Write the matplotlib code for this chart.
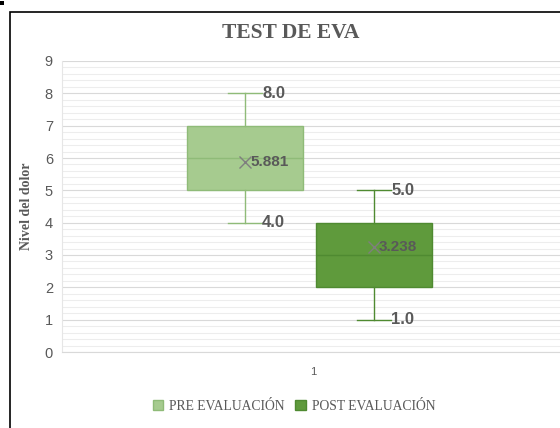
import matplotlib
matplotlib.use("Agg")
import matplotlib.pyplot as plt
from matplotlib.patches import Rectangle, Patch
from matplotlib.ticker import MultipleLocator

series = ["PRE EVALUACIÓN", "POST EVALUACIÓN"]
mins = [4.0, 1.0]
q1s = [5.0, 2.0]
medians = [6.0, 3.0]
q3s = [7.0, 4.0]
maxs = [8.0, 5.0]
means = [5.881, 3.238]
categories = ["1"]

fills = ["#a6cb8f", "#5f9a3c"]
edges = ["#8fbb78", "#4f8a31"]
txt = "#595959"

fig = plt.figure(figsize=(5.6, 4.28), dpi=100)
ax = fig.add_axes([62 / 560, 1 - 352 / 428, 502 / 560, 291 / 428])

positions = [0.8645, 1.1215]
for i in range(2):
    st = [dict(med=medians[i], q1=q1s[i], q3=q3s[i], whislo=mins[i], whishi=maxs[i],
               mean=means[i], fliers=[])]
    ax.bxp(st, positions=[positions[i]], widths=0.231, capwidths=0.068,
           patch_artist=True, showmeans=True, manage_ticks=False,
           boxprops=dict(facecolor=fills[i], edgecolor=edges[i], linewidth=1),
           whiskerprops=dict(color=edges[i], linewidth=1),
           capprops=dict(color=edges[i], linewidth=1),
           medianprops=dict(color=edges[i], linewidth=1),
           meanprops=dict(marker="x", markeredgecolor="#7f7f7f", markersize=8,
                          markeredgewidth=1))
    cap_end = positions[i] + 0.034
    for v in (mins[i], maxs[i]):
        ax.text(cap_end, v, f"{v:.1f}", ha="left", va="center", fontsize=12,
                fontweight="bold", color=txt, family="Liberation Sans")
    ax.text(positions[i] + 0.01, means[i], f"{means[i]:.3f}", ha="left", va="center",
            fontsize=11, fontweight="bold", color=txt, family="Liberation Sans")

ax.set_xlim(0.5, 1.5)
ax.set_ylim(0, 9)
ax.yaxis.set_major_locator(MultipleLocator(1))
ax.yaxis.set_minor_locator(MultipleLocator(0.2))
ax.set_xticks([1.0])
ax.set_xticklabels(categories)
ax.grid(which="major", axis="y", color="#d9d9d9", linewidth=0.8)
ax.grid(which="minor", axis="y", color="#ededed", linewidth=0.8)
ax.set_axisbelow(True)
ax.tick_params(axis="both", which="both", length=0, colors=txt, labelsize=10.5)
ax.tick_params(axis="y", pad=6.5)
ax.tick_params(axis="x", pad=11, labelsize=8)
for lab in ax.get_yticklabels() + ax.get_xticklabels():
    lab.set_family("Liberation Sans")
for s in ["top", "right"]:
    ax.spines[s].set_visible(False)
ax.spines["left"].set_color("#e6e6e6")
ax.spines["bottom"].set_color("#d9d9d9")

ax.set_ylabel("Nivel del dolor", family="Liberation Serif", fontweight="bold",
              fontsize=10, color=txt)
ax.yaxis.set_label_coords(-(62 - 33) / 502, 0.5)
fig.text(291 / 560, 1 - 33 / 428, "TEST DE EVA", ha="center", va="center",
         family="Liberation Serif", fontweight="bold", fontsize=15.5, color=txt)

handles = [Patch(facecolor=fills[i], edgecolor=edges[i], label=series[i]) for i in range(2)]
fig.legend(handles=handles, loc="center", bbox_to_anchor=(294 / 560, 1 - 406 / 428), ncol=2,
           frameon=False, prop=dict(family="Liberation Serif", size=9.8),
           labelcolor=txt, handlelength=0.8, handleheight=0.8, handletextpad=0.4,
           columnspacing=0.8)

fig.patches.append(Rectangle((10 / 560, -0.1), 1.2, 1.1 - 12 / 428,
                             transform=fig.transFigure, fill=False,
                             edgecolor="black", linewidth=1.2))
fig.patches.append(Rectangle((0, 1 - 5 / 428), 4 / 560, 4 / 428, transform=fig.transFigure,
                             facecolor="black", edgecolor="none"))

fig.savefig("out.png", dpi=100)
